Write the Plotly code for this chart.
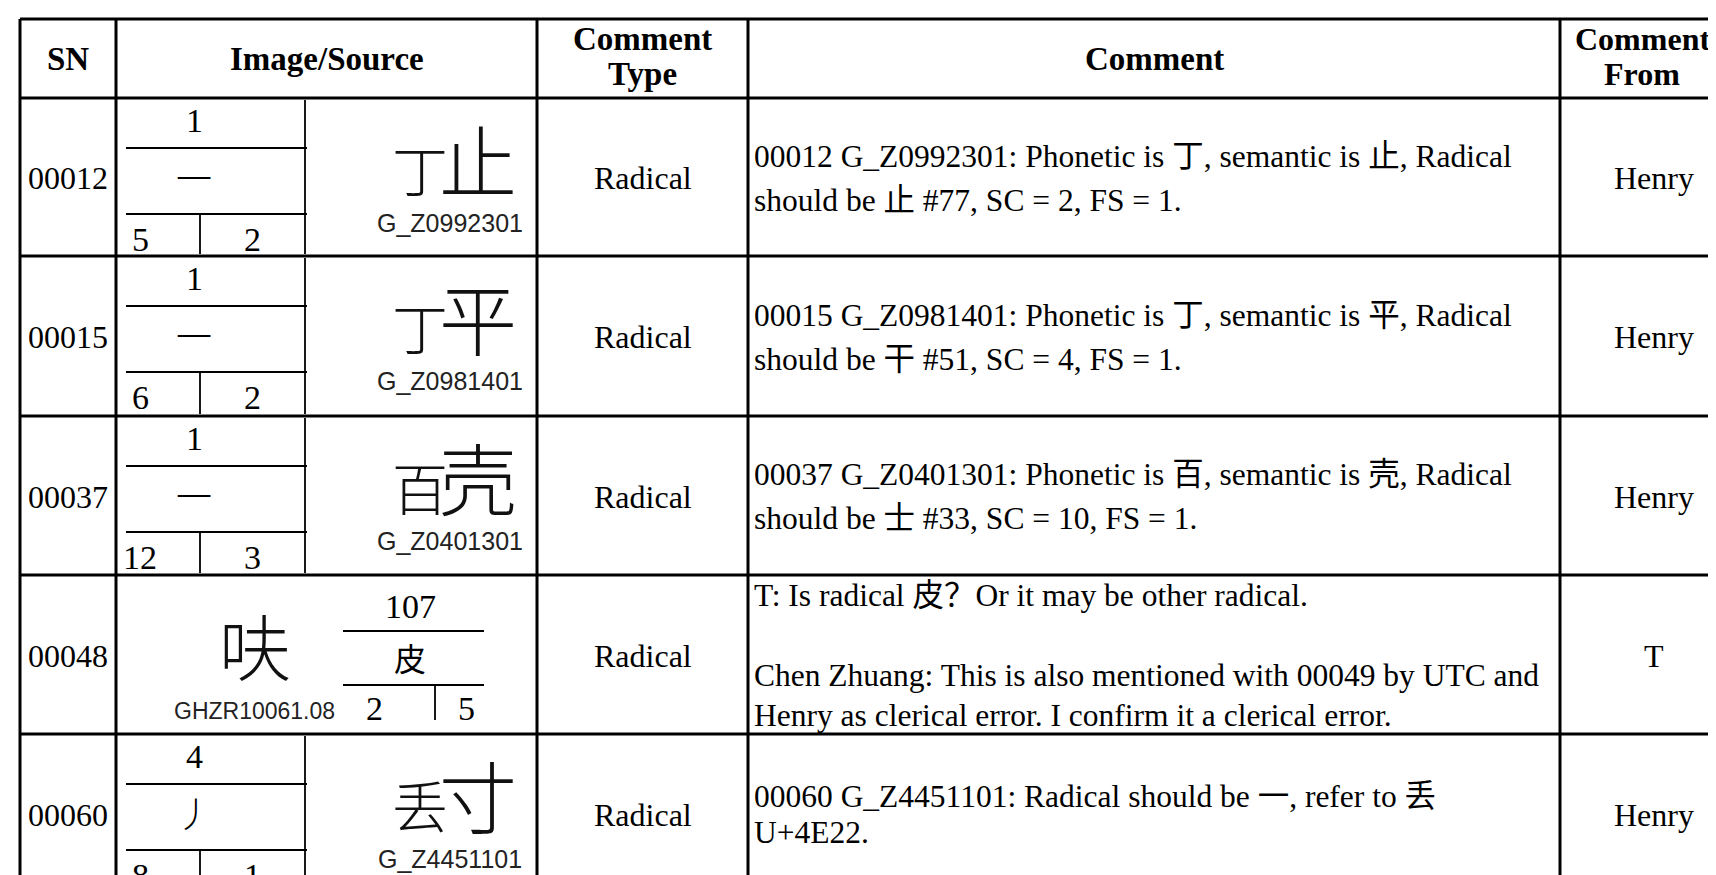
import plotly.graph_objects as go

W, H = 1716, 875

# ---------------- data ----------------
header_lines = [["SN"], ["Image/Source"], ["Comment", "Type"], ["Comment"], ["Comment", "From"]]
sn = ["00012", "00015", "00037", "00048", "00060"]
radical_no = ["1", "1", "1", "107", "4"]
radical_char = ["一", "一", "一", "皮", "丿"]
stroke_sc = ["5", "6", "12", "2", "8"]
stroke_fs = ["2", "2", "3", "5", "1"]
source_id = ["G_Z0992301", "G_Z0981401", "G_Z0401301", "GHZR10061.08", "G_Z4451101"]
glyph_left = ["丁", "丁", "百", "呋", "丢"]
glyph_right = ["止", "平", "壳", "", "寸"]
box_side = ["left", "left", "left", "right", "left"]
comment_type = ["Radical", "Radical", "Radical", "Radical", "Radical"]
comment_lines = [
    ["00012 G_Z0992301: Phonetic is 丁, semantic is 止, Radical",
     "should be 止 #77, SC = 2, FS = 1."],
    ["00015 G_Z0981401: Phonetic is 丁, semantic is 平, Radical",
     "should be 干 #51, SC = 4, FS = 1."],
    ["00037 G_Z0401301: Phonetic is 百, semantic is 壳, Radical",
     "should be 士 #33, SC = 10, FS = 1."],
    ["T: Is radical 皮？Or it may be other radical.",
     "",
     "Chen Zhuang: This is also mentioned with 00049 by UTC and",
     "Henry as clerical error. I confirm it a clerical error."],
    ["00060 G_Z4451101: Radical should be 一, refer to 丢",
     "U+4E22."],
]
comment_from = ["Henry", "Henry", "Henry", "T", "Henry"]

# ---------------- layout geometry ----------------
col_edges = [12, 108, 529, 740, 1552, 1734]
row_edges = [11, 90, 248, 408, 567, 726, 885]
line_pitch = [44, 44, 44, 40, 36]
SERIF = "Liberation Serif, 'Times New Roman', 'Noto Sans CJK SC', serif"
SANS = "Liberation Sans, Arial, sans-serif"
CJK = "'Noto Sans CJK SC', 'Noto Sans CJK JP', sans-serif"
FS_BODY = 32
FS_COMMENT = 31.5
FS_HEAD = 33

shapes = []
annotations = []


def hline(x0, x1, y, w=3):
    shapes.append(dict(type="line", xref="x", yref="y", x0=x0, x1=x1, y0=y, y1=y,
                       line=dict(color="black", width=w)))


def vline(x, y0, y1, w=3):
    shapes.append(dict(type="line", xref="x", yref="y", x0=x, x1=x, y0=y0, y1=y1,
                       line=dict(color="black", width=w)))


def text(x, y, s, size, family=SERIF, color="black", xanchor="center", bold=False, weight=None):
    if bold:
        s = "<b>" + s + "</b>"
    font = dict(family=family, size=size, color=color)
    if weight is not None:
        font["weight"] = weight
    annotations.append(dict(x=x, y=y, xref="x", yref="y", text=s, showarrow=False,
                            xanchor=xanchor, yanchor="middle", font=font))


# table grid
for y in row_edges:
    hline(col_edges[0], col_edges[-1], y)
for x in col_edges:
    vline(x, row_edges[0], row_edges[-1])

# header
head_cx = [60, 318.5, 634.5, 1146, 1634]
head_fs = [FS_HEAD, FS_HEAD, FS_HEAD, FS_HEAD, 32]
for c, lines in enumerate(header_lines):
    if len(lines) == 1:
        text(head_cx[c], 51, lines[0], head_fs[c], bold=True)
    else:
        text(head_cx[c], 31, lines[0], head_fs[c], bold=True)
        text(head_cx[c], 66, lines[1], head_fs[c], bold=True)

# body rows
for r in range(len(sn)):
    top = row_edges[r + 1]
    bot = row_edges[r + 2]
    cy = (top + bot) / 2 + 1
    text(60, cy, sn[r], FS_BODY)
    text(634.5, cy, comment_type[r], FS_BODY)
    text(1646, cy, comment_from[r], FS_BODY)
    lines = comment_lines[r]
    n = len(lines)
    for i, s in enumerate(lines):
        if s:
            text(col_edges[3] + 4, cy + (i - (n - 1) / 2) * line_pitch[r], s, FS_COMMENT,
                 xanchor="left")

    # image/source cell
    if box_side[r] == "left":
        bl, br, bd = 118, 297, 192
        text(186, top + 22, radical_no[r], 34)
        hline(bl, br + 2, top + 50, 1.8)
        text(186, top + 78, radical_char[r], 36, family=CJK, weight=300)
        hline(bl, br + 2, top + 116, 1.8)
        vline(br, top + 2, bot - 2, 1.8)
        vline(bd, top + 116, bot - 2, 1.8)
        text(132, top + 141, stroke_sc[r], 34)
        text(244, top + 141, stroke_fs[r], 34)
        glyph = ("<span style='font-size:56px;letter-spacing:-9px'>" + glyph_left[r]
                 + "</span>" + glyph_right[r])
        text(446, top + 60, glyph, 78, family=CJK, color="#111", weight=300)
        text(442, top + 125, source_id[r], 25, family=SANS, color="#222")
    else:
        bl, br, bd = 335, 476, 427
        text(247, top + 68, glyph_left[r], 72, family=CJK, color="#111", weight=300)
        text(246, top + 136, source_id[r], 23, family=SANS, color="#222")
        text(402, top + 31, radical_no[r], 34)
        hline(bl, br, top + 56, 1.8)
        text(402, top + 82, radical_char[r], 32, family=CJK)
        hline(bl, br, top + 110, 1.8)
        vline(bd, top + 110, top + 145, 1.8)
        text(366, top + 133, stroke_sc[r], 34)
        text(458, top + 133, stroke_fs[r], 34)

fig = go.Figure()
fig.update_layout(
    width=W, height=H,
    margin=dict(l=0, r=0, t=0, b=0),
    paper_bgcolor="white", plot_bgcolor="white",
    xaxis=dict(range=[0, W], visible=False, fixedrange=True),
    yaxis=dict(range=[H, 0], visible=False, fixedrange=True),
    shapes=shapes, annotations=annotations,
    showlegend=False,
)
fig.write_html("out.html", config={"displayModeBar": False})
